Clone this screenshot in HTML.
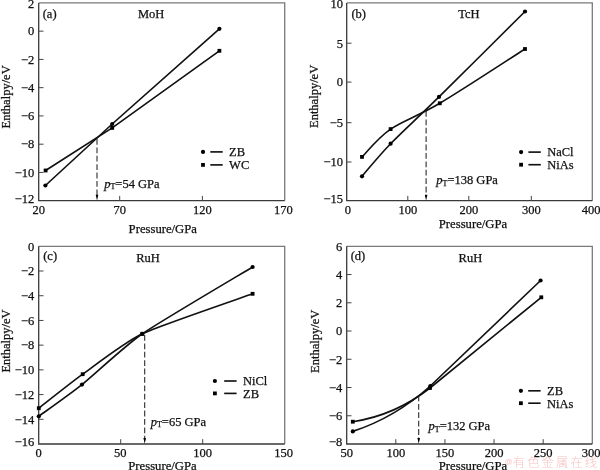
<!DOCTYPE html>
<html><head><meta charset="utf-8"><title>Enthalpy vs pressure</title>
<style>html,body{margin:0;padding:0;background:#fff}body{width:600px;height:470px;overflow:hidden}svg{display:block}
text{font-family:"Liberation Serif","Noto Serif CJK SC",serif;font-size:12.5px;fill:#111;stroke:#111;stroke-width:0.25px}
.al{font-size:12.7px}.yl{font-size:12.5px}
.fr1{fill:none;stroke:#3a3a3a;stroke-width:1.3}.fr2{fill:none;stroke:#7a7a7a;stroke-width:1.3}.tk{fill:none;stroke:#444;stroke-width:1}
.cv{fill:none;stroke:#111;stroke-width:1.65}.ds{fill:none;stroke:#222;stroke-width:1.05;stroke-dasharray:5.8 2.6}
.wm{font-family:"Liberation Sans","Noto Sans CJK SC",sans-serif;font-size:11.5px;font-weight:300;fill:#f6c3c3;stroke:none}
</style></head><body>
<svg width="600" height="470" viewBox="0 0 600 470">
<rect width="600" height="470" fill="#fff"/>
<g>
<path d="M38.7,2.9 H284.7 V200.7" class="fr2"/>
<path d="M38.7,2.9 V200.7 H284.7" class="fr1"/>
<path d="M38.7,31.16h4.8M38.7,59.41h4.8M38.7,87.67h4.8M38.7,115.93h4.8M38.7,144.19h4.8M38.7,172.44h4.8M119.7,200.7v-4.8M202.4,200.7v-4.8" class="tk"/>
<text x="34.2" y="8" text-anchor="end">2</text>
<text x="34.2" y="35.46" text-anchor="end">0</text>
<text x="34.2" y="63.71" text-anchor="end">−2</text>
<text x="34.2" y="91.97" text-anchor="end">−4</text>
<text x="34.2" y="120.23" text-anchor="end">−6</text>
<text x="34.2" y="148.49" text-anchor="end">−8</text>
<text x="34.2" y="176.74" text-anchor="end">−10</text>
<text x="34.2" y="202.6" text-anchor="end">−12</text>
<text x="38.7" y="214" text-anchor="middle">20</text>
<text x="119.7" y="214" text-anchor="middle">70</text>
<text x="202.4" y="214" text-anchor="middle">120</text>
<text x="283.4" y="214" text-anchor="middle">170</text>
<text x="162.8" y="232.6" text-anchor="middle" class="al">Pressure/GPa</text>
<text transform="translate(10.3,96.9) rotate(-90)" text-anchor="middle" class="yl">Enthalpy/eV</text>
<text x="42.7" y="17.7">(a)</text>
<text x="138" y="18.1">MoH</text>
<path d="M45.4,185.5 L112.2,124 L219.4,28.8" class="cv"/>
<circle cx="45.4" cy="185.5" r="2.1"/>
<circle cx="112.2" cy="124" r="2.1"/>
<circle cx="219.4" cy="28.8" r="2.1"/>
<path d="M45.6,170.5 L112.2,127.9 L219.4,50.8" class="cv"/>
<rect x="43.7" y="168.6" width="3.8" height="3.8"/>
<rect x="110.3" y="126" width="3.8" height="3.8"/>
<rect x="217.5" y="48.9" width="3.8" height="3.8"/>
<path d="M97,139V196.7" class="ds"/>
<path d="M97,200.5l-1.3,-5.8h2.6z"/>
<text x="104.2" y="187.5"><tspan font-style="italic">p</tspan><tspan dy="1.8" font-size="8">T</tspan><tspan dy="-1.8">=54 GPa</tspan></text>
<circle cx="203" cy="151.9" r="2.1"/>
<path d="M210.3,151.9h12.4" class="cv"/>
<text x="229.1" y="156.2">ZB</text>
<rect x="201.1" y="163" width="3.8" height="3.8"/>
<path d="M210.3,164.9h12.4" class="cv"/>
<text x="229.1" y="169.2">WC</text>
</g>
<g>
<path d="M346.7,2.9 H592.3 V200.7" class="fr2"/>
<path d="M346.7,2.9 V200.7 H592.3" class="fr1"/>
<path d="M346.7,43.2h4.8M346.7,82.1h4.8M346.7,122.7h4.8M346.7,162h4.8M407.8,200.7v-4.8M468.8,200.7v-4.8M531.3,200.7v-4.8" class="tk"/>
<text x="343" y="7.6" text-anchor="end">10</text>
<text x="343" y="47.5" text-anchor="end">5</text>
<text x="343" y="86.4" text-anchor="end">0</text>
<text x="343" y="127" text-anchor="end">−5</text>
<text x="343" y="166.3" text-anchor="end">−10</text>
<text x="343" y="202.6" text-anchor="end">−15</text>
<text x="347.9" y="214" text-anchor="middle">0</text>
<text x="407.8" y="214" text-anchor="middle">100</text>
<text x="468.8" y="214" text-anchor="middle">200</text>
<text x="531.3" y="214" text-anchor="middle">300</text>
<text x="591.2" y="214" text-anchor="middle">400</text>
<text x="473" y="228.3" text-anchor="middle" class="al">Pressure/GPa</text>
<text transform="translate(317.8,96.4) rotate(-90)" text-anchor="middle" class="yl">Enthalpy/eV</text>
<text x="351.4" y="17.7">(b)</text>
<text x="458.2" y="18.3">TcH</text>
<path d="M362,176.3 C366.77,170.87 377.77,156.93 390.6,143.7 C403.43,130.47 416.6,118.93 439,96.9 C461.4,74.87 510.67,25.73 525,11.5" class="cv"/>
<circle cx="362" cy="176.3" r="2.1"/>
<circle cx="390.6" cy="143.7" r="2.1"/>
<circle cx="439" cy="96.9" r="2.1"/>
<circle cx="525" cy="11.5" r="2.1"/>
<path d="M362,156.9 C366.77,152.27 377.63,138.03 390.6,129.1 C403.57,120.17 417.4,116.65 439.8,103.3 C462.2,89.95 510.8,58.05 525,49" class="cv"/>
<rect x="360.1" y="155" width="3.8" height="3.8"/>
<rect x="388.7" y="127.2" width="3.8" height="3.8"/>
<rect x="437.9" y="101.4" width="3.8" height="3.8"/>
<rect x="523.1" y="47.1" width="3.8" height="3.8"/>
<path d="M426.1,111V196.7" class="ds"/>
<path d="M426.1,200.5l-1.3,-5.8h2.6z"/>
<text x="436.3" y="184.2"><tspan font-style="italic">p</tspan><tspan dy="1.8" font-size="8">T</tspan><tspan dy="-1.8">=138 GPa</tspan></text>
<circle cx="521.1" cy="152.1" r="2.1"/>
<path d="M528.4,152.1h12.4" class="cv"/>
<text x="547.2" y="156.4">NaCl</text>
<rect x="519.2" y="162.8" width="3.8" height="3.8"/>
<path d="M528.4,164.7h12.4" class="cv"/>
<text x="547.2" y="169">NiAs</text>
</g>
<g>
<path d="M38.7,246.3 H284.7 V444" class="fr2"/>
<path d="M38.7,246.3 V444 H284.7" class="fr1"/>
<path d="M38.7,271.01h4.8M38.7,295.73h4.8M38.7,320.44h4.8M38.7,345.15h4.8M38.7,369.86h4.8M38.7,394.57h4.8M38.7,419.29h4.8M120.7,444v-4.8M202.7,444v-4.8" class="tk"/>
<text x="34.2" y="250.9" text-anchor="end">0</text>
<text x="34.2" y="275.31" text-anchor="end">−2</text>
<text x="34.2" y="300.03" text-anchor="end">−4</text>
<text x="34.2" y="324.74" text-anchor="end">−6</text>
<text x="34.2" y="349.45" text-anchor="end">−8</text>
<text x="34.2" y="374.16" text-anchor="end">−10</text>
<text x="34.2" y="398.88" text-anchor="end">−12</text>
<text x="34.2" y="423.59" text-anchor="end">−14</text>
<text x="34.2" y="445.9" text-anchor="end">−16</text>
<text x="38.7" y="457.3" text-anchor="middle">0</text>
<text x="120.3" y="457.3" text-anchor="middle">50</text>
<text x="202.7" y="457.3" text-anchor="middle">100</text>
<text x="283.5" y="457.3" text-anchor="middle">150</text>
<text x="162.5" y="469.9" text-anchor="middle" class="al">Pressure/GPa</text>
<text transform="translate(10,341) rotate(-90)" text-anchor="middle" class="yl">Enthalpy/eV</text>
<text x="43.2" y="260.1">(c)</text>
<text x="136.2" y="262">RuH</text>
<path d="M38.8,416.3 C43.12,413.13 71.65,392.85 82,384.6 C92.35,376.35 125.24,345.56 142.3,333.8 C159.36,322.04 241.57,273.68 252.6,267" class="cv"/>
<circle cx="38.8" cy="416.3" r="2.1"/>
<circle cx="82" cy="384.6" r="2.1"/>
<circle cx="142.3" cy="333.8" r="2.1"/>
<circle cx="252.6" cy="267" r="2.1"/>
<path d="M38.8,408.2 C43.19,404.8 72.35,381.64 82.7,374.2 C93.05,366.76 125.31,341.84 142.3,333.8 C159.29,325.76 241.57,297.8 252.6,293.8" class="cv"/>
<rect x="36.9" y="406.3" width="3.8" height="3.8"/>
<rect x="80.8" y="372.3" width="3.8" height="3.8"/>
<rect x="140.4" y="331.9" width="3.8" height="3.8"/>
<rect x="250.7" y="291.9" width="3.8" height="3.8"/>
<path d="M144.7,335V440" class="ds"/>
<path d="M144.7,443.8l-1.3,-5.8h2.6z"/>
<text x="150.7" y="425.5"><tspan font-style="italic">p</tspan><tspan dy="1.8" font-size="8">T</tspan><tspan dy="-1.8">=65 GPa</tspan></text>
<circle cx="214.9" cy="381" r="2.1"/>
<path d="M224.2,381h12.4" class="cv"/>
<text x="243" y="385.3">NiCl</text>
<rect x="213" y="391.5" width="3.8" height="3.8"/>
<path d="M224.2,393.4h12.4" class="cv"/>
<text x="243" y="397.7">ZB</text>
</g>
<g>
<path d="M346.7,246.3 H592.3 V444" class="fr2"/>
<path d="M346.7,246.3 V444 H592.3" class="fr1"/>
<path d="M346.7,274.54h4.8M346.7,302.79h4.8M346.7,331.03h4.8M346.7,359.27h4.8M346.7,387.51h4.8M346.7,415.76h4.8M395.82,444v-4.8M444.94,444v-4.8M494.06,444v-4.8M543.18,444v-4.8" class="tk"/>
<text x="342.2" y="250.9" text-anchor="end">6</text>
<text x="342.2" y="278.84" text-anchor="end">4</text>
<text x="342.2" y="307.09" text-anchor="end">2</text>
<text x="342.2" y="335.33" text-anchor="end">0</text>
<text x="342.2" y="363.57" text-anchor="end">−2</text>
<text x="342.2" y="391.81" text-anchor="end">−4</text>
<text x="342.2" y="420.06" text-anchor="end">−6</text>
<text x="342.2" y="445.9" text-anchor="end">−8</text>
<text x="346.7" y="457.3" text-anchor="middle">50</text>
<text x="395.82" y="457.3" text-anchor="middle">100</text>
<text x="444.94" y="457.3" text-anchor="middle">150</text>
<text x="494.06" y="457.3" text-anchor="middle">200</text>
<text x="543.18" y="457.3" text-anchor="middle">250</text>
<text x="591.2" y="457.3" text-anchor="middle">300</text>
<text x="473" y="469.9" text-anchor="middle" class="al">Pressure/GPa</text>
<text transform="translate(319,341.3) rotate(-90)" text-anchor="middle" class="yl">Enthalpy/eV</text>
<text x="350.7" y="260.1">(d)</text>
<text x="458.6" y="262">RuH</text>
<path d="M352.8,431.4 Q395.6,417.3 430.3,386 L540.6,280.5" class="cv"/>
<circle cx="352.8" cy="431.4" r="2.1"/>
<circle cx="430.3" cy="386" r="2.1"/>
<circle cx="540.6" cy="280.5" r="2.1"/>
<path d="M352.8,421.7 Q394.9,415.4 430,388 L541.3,297.3" class="cv"/>
<rect x="350.9" y="419.8" width="3.8" height="3.8"/>
<rect x="428.1" y="386.1" width="3.8" height="3.8"/>
<rect x="539.4" y="295.4" width="3.8" height="3.8"/>
<path d="M418.7,395.5V440" class="ds"/>
<path d="M418.7,443.8l-1.3,-5.8h2.6z"/>
<text x="428.5" y="429.7"><tspan font-style="italic">p</tspan><tspan dy="1.8" font-size="8">T</tspan><tspan dy="-1.8">=132 GPa</tspan></text>
<circle cx="520.9" cy="390.8" r="2.1"/>
<path d="M528.2,390.8h12.4" class="cv"/>
<text x="547" y="395.1">ZB</text>
<rect x="519" y="401.3" width="3.8" height="3.8"/>
<path d="M528.2,403.2h12.4" class="cv"/>
<text x="547" y="407.5">NiAs</text>
</g>
<text x="504.8" y="463.8" class="wm" style="font-size:7.5px">@</text>
<text x="512.8" y="466.8" class="wm" style="font-size:12.3px" textLength="84.3">有色金属在线</text>
</svg></body></html>
